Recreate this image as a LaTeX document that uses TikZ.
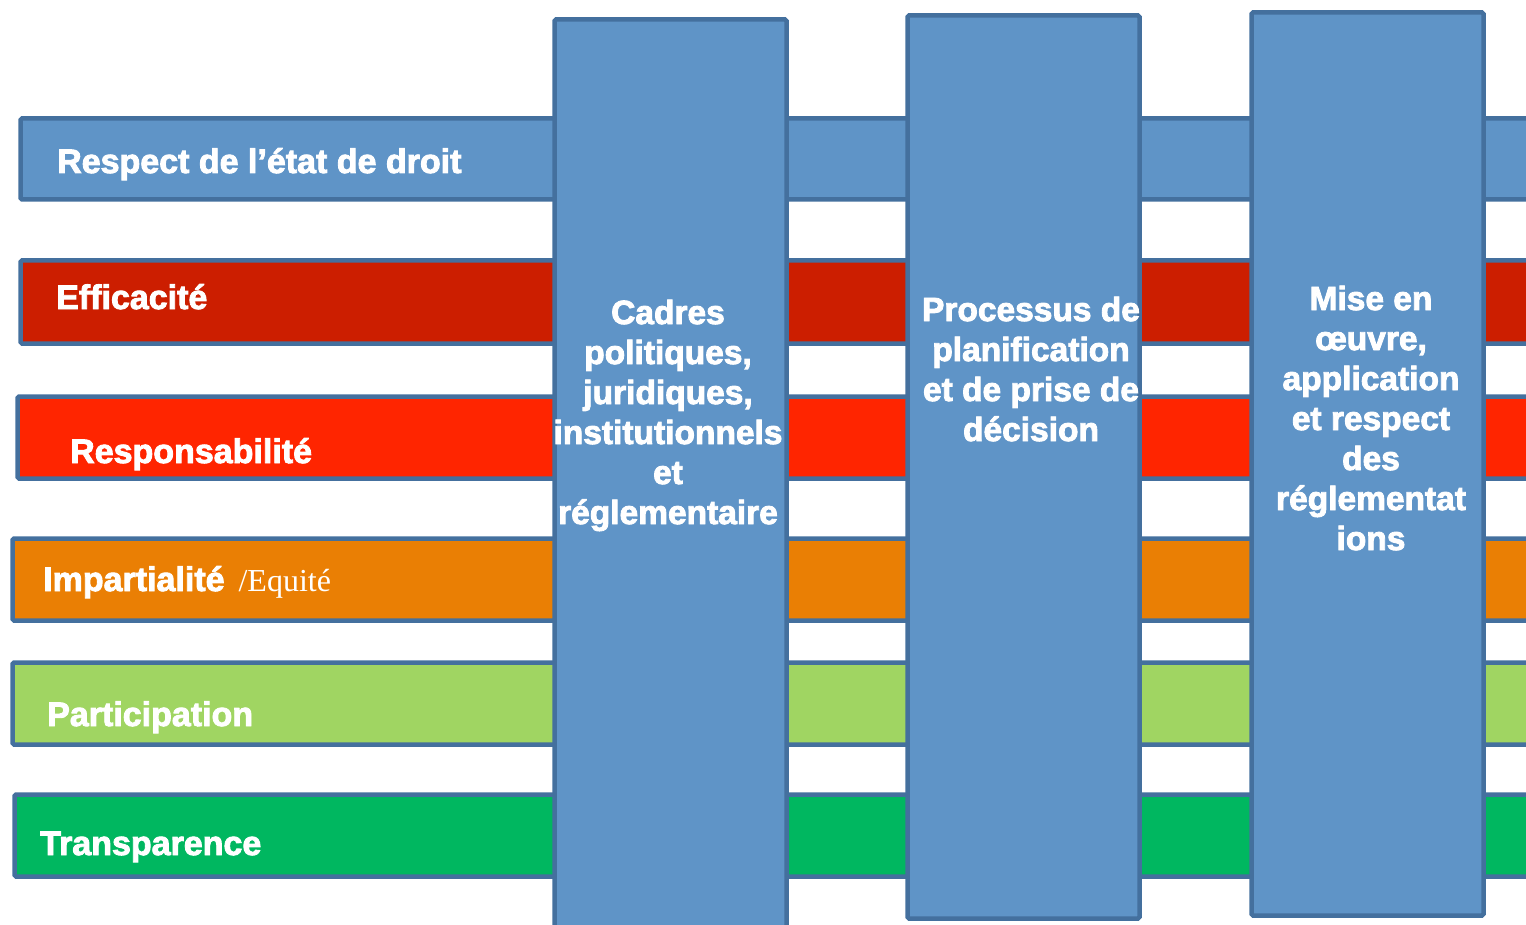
\documentclass[tikz,border=0pt]{standalone}
\usepackage{fontspec}
\setmainfont{Liberation Sans}
\newfontfamily\heavy[FakeBold=2.6]{Liberation Sans}
\newfontfamily\eqserif{Liberation Serif}
\definecolor{colblue}{HTML}{5F94C7}
\definecolor{edgeblue}{HTML}{44709E}
\definecolor{cEff}{HTML}{CC1E00}
\definecolor{cResp}{HTML}{FF2500}
\definecolor{cImp}{HTML}{EA7F04}
\definecolor{cPart}{HTML}{A0D562}
\definecolor{cTrans}{HTML}{00B760}
\begin{document}
\begin{tikzpicture}[x=1pt,y=-1pt,
  barbox/.style={draw=edgeblue, line width=4.5pt, rounded corners=1.5pt},
  colbox/.style={draw=edgeblue, fill=colblue, line width=4.5pt, rounded corners=1.5pt},
  lbl/.style={anchor=base west, text=white, inner sep=0pt, font=\heavy\bfseries\fontsize{34}{40}\selectfont},
  coltext/.style={anchor=base, text=white, inner sep=0pt, align=center, font=\heavy\bfseries\fontsize{33.5}{40}\selectfont}]
\useasboundingbox (0,0) rectangle (1526,925);
\clip (0,0) rectangle (1526,925);
% horizontal bars
\draw[barbox, fill=colblue] (20.5,118.5) rectangle (1545,199.5);
\draw[barbox, fill=cEff]    (20.5,260.5) rectangle (1545,343.5);
\draw[barbox, fill=cResp]   (17.5,396.5) rectangle (1545,478.5);
\draw[barbox, fill=cImp]    (12.5,538.5) rectangle (1545,620.5);
\draw[barbox, fill=cPart]   (12.5,662.5) rectangle (1545,744.5);
\draw[barbox, fill=cTrans]  (14.5,794.5) rectangle (1545,876.5);
% labels
\node[lbl] (l1) at (57,173) {Respect de l’état de droit};
\node[lbl] (l2) at (56,309) {Efficacité};
\node[lbl] (l3) at (70,463) {Responsabilité};
\node[lbl] (l4) at (43,591) {Impartialité\hspace{14pt}\eqserif\mdseries\fontsize{32}{32}\selectfont /Equité};
\node[lbl] (l5) at (47,726) {Participation};
\node[lbl] (l6) at (40,855) {Transparence};
% vertical columns
\draw[colbox] (554.5,19.5) rectangle (786.5,940);
\draw[colbox] (907.5,15.5) rectangle (1139.5,918.5);
\draw[colbox] (1251.5,12.5) rectangle (1483.5,915.5);
% column texts
\node[coltext] (c1) at (668,524) {Cadres\\politiques,\\juridiques,\\institutionnels\\et\\réglementaire};
\node[coltext] (c2) at (1031,441) {Processus de\\planification\\et de prise de\\décision};
\node[coltext] (c3) at (1371,550) {Mise en\\œuvre,\\application\\et respect\\des\\réglementat\\ions};
\end{tikzpicture}
\end{document}
